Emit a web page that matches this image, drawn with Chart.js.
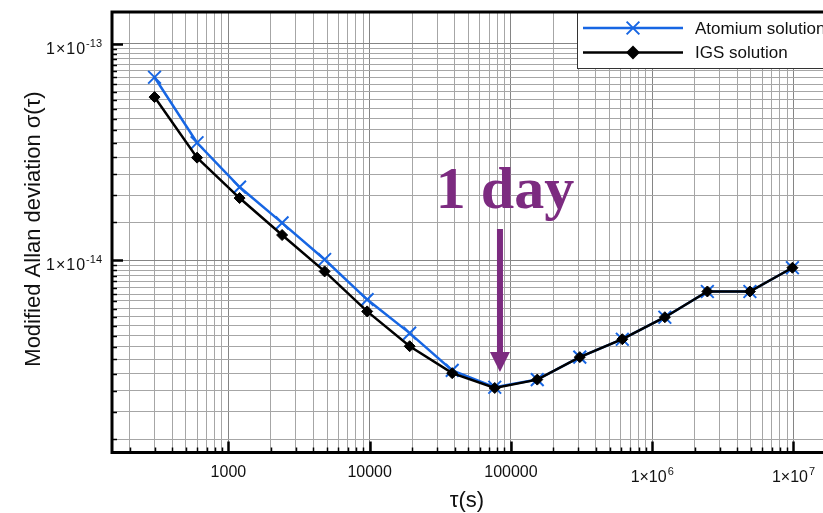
<!DOCTYPE html>
<html>
<head>
<meta charset="utf-8">
<script src="https://cdn.jsdelivr.net/npm/chart.js@4.4.0/dist/chart.umd.min.js"></script>
<style>
    html, body { margin: 0; padding: 0; background: #fff; overflow: hidden; }
    #wrap { position: relative; width: 847px; height: 513px; }
</style>
</head>
<body>
<div id="wrap"><canvas id="myChart" width="847" height="513"></canvas></div>
<script>
// averaging time tau (s)
const tau = [300, 600, 1200, 2400, 4800, 9600, 19200, 38400, 76800, 153600, 307200, 614400, 1228800, 2457600, 4915200, 9830400];
// modified Allan deviation
const atomium = [7.0e-14, 3.49e-14, 2.18e-14, 1.49e-14, 1.01e-14, 6.6e-15, 4.62e-15, 3.11e-15, 2.6e-15, 2.82e-15, 3.58e-15, 4.33e-15, 5.47e-15, 7.19e-15, 7.19e-15, 9.25e-15];
const igs = [5.67e-14, 2.98e-14, 1.94e-14, 1.31e-14, 8.9e-15, 5.82e-15, 4.02e-15, 3.02e-15, 2.58e-15, 2.82e-15, 3.58e-15, 4.33e-15, 5.47e-15, 7.19e-15, 7.19e-15, 9.25e-15];

// labelled ticks: [value, text, superscript]
const xLabels = [[1000, '1000', ''], [10000, '10000', ''], [100000, '100000', ''], [1e6, '1×10', '6'], [1e7, '1×10', '7']];
const yLabels = [[1e-14, '1×10', '-14'], [1e-13, '1×10', '-13']];

const ONE_DAY = 86400;

const blue = '#1766e3';
const purple = '#7c2b80';
const sans = '"Liberation Sans", Arial, Helvetica, sans-serif';

// grid values: 1..9 per decade on x, half steps on y
const xGrid = [];
for (let e = 2; e <= 7; e++) for (let m = 1; m <= 9; m++) xGrid.push(m * Math.pow(10, e));
const yGrid = [];
for (let e = -15; e <= -13; e++) for (let m = 1; m < 10; m += 0.5) yGrid.push(m * Math.pow(10, e));

const isDecade = v => Math.abs(Math.log10(v) - Math.round(Math.log10(v))) < 1e-6;

const decorations = {
    id: 'decorations',
    afterDraw(chart) {
        const { ctx, chartArea: a, scales: { x, y } } = chart;
        ctx.save();

        // legend
        const lx = 577, ly = a.top, lb = 68;
        ctx.fillStyle = '#fff';
        ctx.fillRect(lx, ly, a.right - lx, lb - ly);
        ctx.strokeStyle = '#333';
        ctx.lineWidth = 1;
        ctx.strokeRect(lx + 0.5, ly, a.right - lx, lb - ly + 0.5);
        const rows = [[28, blue, 'crossRot', 9, 'Atomium solution'], [52.5, '#000', 'rectRot', 5.5, 'IGS solution']];
        rows.forEach(([ry, col, style, r, txt]) => {
            ctx.strokeStyle = col;
            ctx.lineWidth = 2.5;
            ctx.beginPath();
            ctx.moveTo(583, ry);
            ctx.lineTo(683, ry);
            ctx.stroke();
            ctx.fillStyle = col;
            ctx.lineWidth = 2;
            Chart.helpers.drawPoint(ctx, { pointStyle: style, radius: r, borderWidth: 2 }, 633, ry);
            ctx.fillStyle = '#111';
            ctx.font = '17px ' + sans;
            ctx.textAlign = 'left';
            ctx.textBaseline = 'middle';
            ctx.fillText(txt, 695, ry + 1);
        });

        // inward tick marks
        ctx.strokeStyle = '#000';
        xGrid.forEach(v => {
            if (v < x.min || v > x.max) return;
            const px = Math.round(x.getPixelForValue(v)) + 0.5;
            const major = isDecade(v);
            ctx.lineWidth = major ? 2.5 : 1.5;
            ctx.beginPath();
            ctx.moveTo(px, a.bottom);
            ctx.lineTo(px, a.bottom - (major ? 11 : 5));
            ctx.stroke();
        });
        yGrid.forEach(v => {
            if (v < y.min || v > y.max) return;
            const py = Math.round(y.getPixelForValue(v)) + 0.5;
            const major = isDecade(v);
            ctx.lineWidth = major ? 2.5 : 1.5;
            ctx.beginPath();
            ctx.moveTo(a.left, py);
            ctx.lineTo(a.left + (major ? 11 : 5), py);
            ctx.stroke();
        });

        // frame
        ctx.lineWidth = 3;
        ctx.strokeRect(a.left, a.top, a.right - a.left, a.bottom - a.top);

        // tick labels
        ctx.fillStyle = '#111';
        ctx.textBaseline = 'alphabetic';
        xLabels.forEach(([v, main, sup]) => {
            const px = x.getPixelForValue(v);
            ctx.font = '16px ' + sans;
            const w1 = ctx.measureText(main).width;
            ctx.font = '11px ' + sans;
            const w2 = sup ? ctx.measureText(sup).width + 1 : 0;
            const x0 = px - (w1 + w2) / 2;
            const base = sup ? 482 : 477;
            ctx.textAlign = 'left';
            ctx.font = '16px ' + sans;
            ctx.fillText(main, x0, base);
            if (sup) {
                ctx.font = '11px ' + sans;
                ctx.fillText(sup, x0 + w1 + 1, base - 7);
            }
        });
        yLabels.forEach(([v, main, sup]) => {
            const py = y.getPixelForValue(v);
            ctx.font = '11px ' + sans;
            const w2 = ctx.measureText(sup).width;
            const right = 102;
            ctx.textAlign = 'left';
            ctx.fillText(sup, right - w2, py + 3);
            ctx.font = '16px ' + sans;
            ctx.letterSpacing = '1px';
            const w1 = ctx.measureText(main).width;
            ctx.fillText(main, right - w2 - w1, py + 10);
            ctx.letterSpacing = '0px';
        });

        // axis titles
        ctx.fillStyle = '#111';
        ctx.font = '22px ' + sans;
        ctx.textAlign = 'center';
        ctx.fillText('τ(s)', 467, 507);
        ctx.save();
        ctx.translate(40, 229);
        ctx.rotate(-Math.PI / 2);
        ctx.fillText('Modified Allan deviation σ(τ)', 0, 0);
        ctx.restore();

        // one-day marker
        const dx = x.getPixelForValue(ONE_DAY) - 2;
        ctx.fillStyle = purple;
        ctx.font = 'bold 60px "Liberation Serif", "Times New Roman", serif';
        ctx.textAlign = 'center';
        ctx.fillText('1 day', dx + 5, 208);
        ctx.fillRect(dx - 3, 229, 6, 124);
        ctx.beginPath();
        ctx.moveTo(dx - 10, 352);
        ctx.lineTo(dx + 10, 352);
        ctx.lineTo(dx, 372);
        ctx.closePath();
        ctx.fill();

        ctx.restore();
    }
};

const ctx = document.getElementById('myChart');

new Chart(ctx, {
    type: 'line',
    data: {
        datasets: [{
            label: 'IGS solution',
            data: tau.map((t, i) => ({ x: t, y: igs[i] })),
            borderColor: '#000',
            backgroundColor: '#000',
            borderWidth: 2.5,
            pointStyle: 'rectRot',
            pointRadius: 5.5,
            pointBorderWidth: 1,
            tension: 0,
            order: 0
        }, {
            label: 'Atomium solution',
            data: tau.map((t, i) => ({ x: t, y: atomium[i] })),
            borderColor: blue,
            backgroundColor: blue,
            borderWidth: 2.5,
            pointStyle: 'crossRot',
            pointRadius: 9,
            pointBorderWidth: 2,
            tension: 0,
            order: 1
        }]
    },
    options: {
        responsive: false,
        animation: false,
        layout: { padding: { top: 12, right: 5, left: 0, bottom: 0 } },
        plugins: { legend: { display: false }, tooltip: { enabled: false } },
        scales: {
            x: {
                type: 'logarithmic',
                min: 150,
                max: 2e7,
                afterBuildTicks: s => { s.ticks = xGrid.filter(v => v >= 150 && v <= 2e7).map(v => ({ value: v })); },
                afterFit: s => { s.height = 60.5; },
                ticks: { display: false },
                border: { display: false },
                grid: {
                    drawTicks: false,
                    lineWidth: 1,
                    color: c => isDecade(c.tick.value) ? '#858585' : '#a6a6a6'
                }
            },
            y: {
                type: 'logarithmic',
                min: 1.3e-15,
                max: 1.4e-13,
                afterBuildTicks: s => { s.ticks = yGrid.filter(v => v >= 1.3e-15 && v <= 1.4e-13).map(v => ({ value: v })); },
                afterFit: s => { s.width = 112; },
                ticks: { display: false },
                border: { display: false },
                grid: {
                    drawTicks: false,
                    lineWidth: 1,
                    color: c => isDecade(c.tick.value) ? '#858585' : '#a6a6a6'
                }
            }
        }
    },
    plugins: [decorations]
});
</script>
</body>
</html>
